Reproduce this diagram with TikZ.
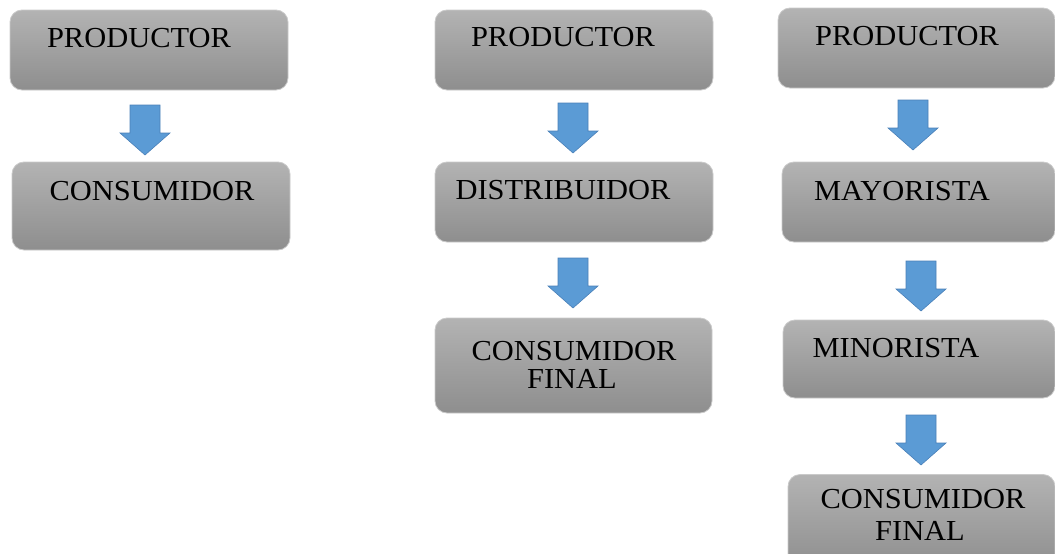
\documentclass[tikz,border=0pt]{standalone}
\usepackage{fontspec}
\setmainfont{Liberation Serif}[FakeStretch=1.05]
\definecolor{boxtop}{HTML}{B3B3B3}
\definecolor{boxmid}{HTML}{A9A9A9}
\definecolor{boxbot}{HTML}{8E8E8E}
\definecolor{boxedge}{HTML}{CACACA}
\definecolor{arrowblue}{HTML}{5B9BD5}
\definecolor{arrowedge}{HTML}{4A80B8}
\tikzset{
  box/.style={rectangle, rounded corners=12pt, top color=boxtop, middle color=boxmid, bottom color=boxbot, draw=boxedge, line width=0.8pt, inner sep=0pt},
  lbl/.style={anchor=base, inner sep=0pt, font=\fontsize{29}{32}\selectfont, text=black},
  barrowst/.style={fill=arrowblue, draw=arrowedge, line width=0.6pt}
}
\newcommand\blockarrow[1]{\draw[barrowst, shift={(#1)}] (-15,-25) -- (15,-25) -- (15,3) -- (25,3) -- (0,25) -- (-25,3) -- (-15,3) -- cycle;}
\begin{document}
\begin{tikzpicture}[x=1pt,y=-1pt]
\useasboundingbox (0,0) rectangle (1055,554);
\clip (0,0) rectangle (1055,554);
% column 1
\node[box, minimum width=278pt, minimum height=80pt] (p1) at (149,50) {};
\node[box, minimum width=278pt, minimum height=88pt] (c1) at (151,206) {};
\node[lbl] (tp1) at (139,47) {PRODUCTOR};
\node[lbl] (tc1) at (152,200) {CONSUMIDOR};
\coordinate (a1) at (145,130);
\blockarrow{a1}
% column 2
\node[box, minimum width=278pt, minimum height=80pt] (p2) at (574,50) {};
\node[box, minimum width=278pt, minimum height=80pt] (d2) at (574,202) {};
\node[box, minimum width=277pt, minimum height=95pt] (cf2) at (573.5,365.5) {};
\node[lbl] (tp2) at (563,46) {PRODUCTOR};
\node[lbl] (td2) at (563,199) {DISTRIBUIDOR};
\node[lbl] (tcf2a) at (574,360) {CONSUMIDOR};
\node[lbl] (tcf2b) at (572,388) {FINAL};
\coordinate (a2) at (573,128);
\coordinate (a3) at (573,283);
\blockarrow{a2}
\blockarrow{a3}
% column 3
\node[box, minimum width=277pt, minimum height=80pt] (p3) at (916.5,48) {};
\node[box, minimum width=273pt, minimum height=80pt] (m3) at (918.5,202) {};
\node[box, minimum width=272pt, minimum height=78pt] (mi3) at (919,359) {};
\node[box, minimum width=267pt, minimum height=95pt] (cf3) at (921.5,522) {};
\node[lbl] (tp3) at (907,45) {PRODUCTOR};
\node[lbl] (tm3) at (902,200) {MAYORISTA};
\node[lbl] (tmi3) at (896,357) {MINORISTA};
\node[lbl] (tcf3a) at (923,508) {CONSUMIDOR};
\node[lbl] (tcf3b) at (920,540) {FINAL};
\coordinate (a4) at (913,125);
\coordinate (a5) at (921,286);
\coordinate (a6) at (921,440);
\blockarrow{a4}
\blockarrow{a5}
\blockarrow{a6}
\end{tikzpicture}
\end{document}
